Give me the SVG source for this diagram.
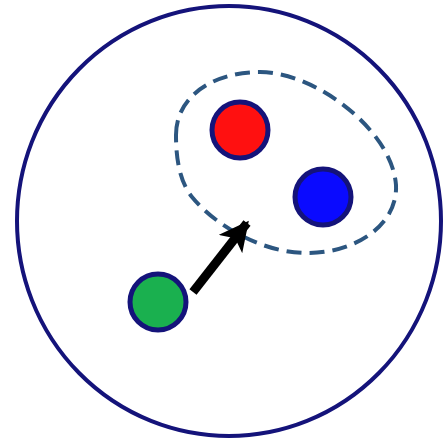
<svg xmlns="http://www.w3.org/2000/svg" width="444" height="438" viewBox="0 0 444 438">
<style>
.node{stroke:#14137a;stroke-width:5}
</style>
<defs>
<marker id="ah" viewBox="0 0 10 10" refX="9" refY="5" markerWidth="3.3" markerHeight="3.3" orient="auto" markerUnits="strokeWidth">
<path d="M0,0 L10,5 L0,10 L2.5,5 Z" fill="#000"/>
</marker>
</defs>
<rect width="444" height="438" fill="#fff"/>
<g id="outer"><ellipse cx="229" cy="221" rx="212" ry="215" fill="none" stroke="#14137a" stroke-width="4"/></g>
<g id="group"><path d="M176,135 C176,95 215,72 260,72 C315,72 392,130 396,185 C398,225 355,254 305,253 C260,252 215,225 192,197 C180,182 176,160 176,135 Z" fill="none" stroke="#2c5680" stroke-width="4" stroke-dasharray="15 8"/></g>
<g id="red"><circle class="node" cx="240" cy="130" r="28" fill="#ff1010"/></g>
<g id="blue"><circle class="node" cx="323" cy="197" r="28" fill="#0a0aff"/></g>
<g id="green"><circle class="node" cx="158" cy="302" r="28" fill="#1ab04f"/></g>
<g id="connectors"><line x1="193" y1="292" x2="247" y2="223" stroke="#000" stroke-width="9" marker-end="url(#ah)"/></g>
</svg>
